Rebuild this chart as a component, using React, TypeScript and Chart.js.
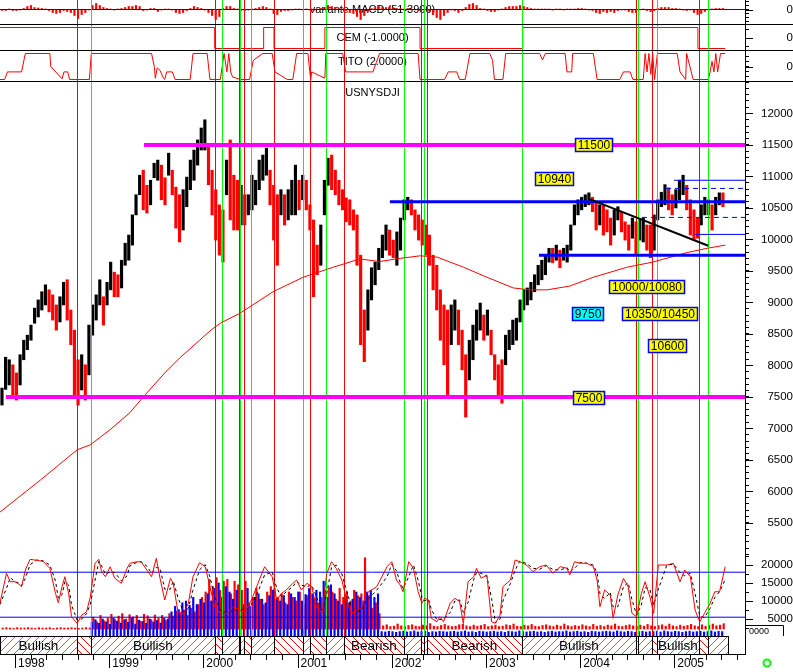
import React, { useEffect, useRef } from 'react';
import { Chart, registerables } from 'chart.js';

Chart.register(...registerables);

// ---------------- time frame (decimal years) ----------------
const X_START = 1997.841;
const X_END = 2005.75;
const DATA_END = 2005.57;
const BAR_START = 1997.862;
const BAR_STEP = 1 / 26; // bi-weekly bars

// ---------------- Dow Jones (USNYSDJI) bi-weekly high / low ----------------
const priceHigh = [
  7640, 8130, 8090, 8010, 7880, 8170, 8400, 8480, 8640, 8910,
  9040, 9170, 9280, 9200, 9120, 8960, 9090, 9320, 9360, 8880,
  8560, 8090, 8170, 8010, 8640, 8960, 9120, 9360, 9090, 9320,
  9640, 9480, 9440, 9670, 9940, 10070, 10390, 10710, 11020, 11100,
  10860, 10940, 11210, 11260, 11180, 10980, 11370, 11100, 10830, 10710,
  10790, 10990, 11260, 11420, 11580, 11770, 11900, 11500, 11100, 10790,
  10550, 10470, 11260, 11580, 11020, 10940, 10860, 10710, 10710, 11020,
  10940, 11260, 11340, 11450, 11100, 10860, 10710, 10790, 10710, 10790,
  10940, 11180, 10940, 11020, 10940, 10550, 10310, 9910, 10230, 10940,
  11290, 11340, 11100, 10940, 10790, 10660, 10630, 10470, 10390, 9750,
  8880, 9200, 9550, 9640, 9860, 10070, 10230, 10150, 9990, 10120,
  10340, 10630, 10670, 10630, 10470, 10390, 10310, 10230, 10070, 9750,
  9590, 9200, 8960, 8880, 8960, 9040, 8880, 8560, 8170, 8400,
  8640, 8880, 8990, 8800, 8880, 8560, 8170, 8010, 8090, 8480,
  8560, 8720, 8750, 9040, 9200, 9230, 9320, 9440, 9590, 9670,
  9750, 9860, 9860, 9910, 9830, 9860, 9910, 10230, 10550, 10630,
  10670, 10710, 10740, 10670, 10580, 10550, 10550, 10470, 10340, 10470,
  10520, 10440, 10280, 10230, 10340, 10280, 10310, 10340, 10230, 10230,
  10390, 10630, 10750, 10870, 10820, 10710, 10790, 10940, 11020, 10860,
  10630, 10470, 10340, 10550, 10670, 10630, 10550, 10670, 10740, 10740,
];
const priceLow = [
  7370, 7620, 7690, 7530, 7450, 7690, 8090, 8250, 8400, 8670,
  8770, 8880, 8960, 8850, 8720, 8560, 8690, 8960, 8720, 8330,
  7530, 7370, 7610, 7450, 7850, 8480, 8720, 8960, 8640, 8960,
  9200, 9090, 9090, 9230, 9590, 9670, 9910, 10390, 10710, 10470,
  10420, 10550, 10980, 10940, 10630, 10550, 11020, 10710, 10180, 9960,
  10150, 10520, 10790, 10940, 11180, 11420, 11420, 10870, 10390, 9990,
  9750, 9640, 10710, 10310, 10150, 10150, 10230, 10230, 10390, 10470,
  10550, 10790, 10940, 11020, 10550, 9990, 9590, 10390, 10230, 10310,
  10390, 10390, 10470, 10630, 10470, 10150, 9090, 9440, 9590, 10390,
  10860, 10790, 10710, 10550, 10470, 10280, 10230, 10150, 9590, 8330,
  8060, 8560, 9040, 9280, 9520, 9710, 9830, 9750, 9710, 9590,
  9830, 10310, 10470, 10390, 10150, 9990, 9910, 9750, 9590, 9200,
  8880, 8400, 8010, 7530, 8330, 8560, 8330, 7930, 7180, 7770,
  8090, 8400, 8560, 8400, 8480, 8170, 7770, 7530, 7400, 8010,
  8250, 8330, 8400, 8690, 8880, 8960, 9040, 9170, 9280, 9360,
  9440, 9640, 9630, 9670, 9550, 9670, 9640, 9830, 10230, 10390,
  10470, 10520, 10550, 10440, 10150, 10230, 10070, 10120, 9910, 10070,
  10310, 10120, 9990, 9830, 10020, 9750, 9990, 9960, 9830, 9710,
  9830, 10310, 10520, 10550, 10470, 10390, 10500, 10630, 10710, 10470,
  10070, 9990, 10020, 10230, 10390, 10390, 10150, 10390, 10550, 10520,
];

// 200-day moving average
const maDates = [1997.84, 1998.27, 1998.66, 1998.8, 1999.01, 1999.22, 1999.38, 1999.59, 1999.75, 1999.96, 2000.08, 2000.18, 2000.39, 2000.74, 2001.06, 2001.38, 2001.66, 2001.87, 2002.09, 2002.3, 2002.48, 2002.76, 2003.01, 2003.29, 2003.47, 2003.65, 2003.89, 2004.14, 2004.5, 2004.77, 2005.13, 2005.35, 2005.54];
const maValues = [5670, 6180, 6660, 6740, 6980, 7250, 7530, 7880, 8120, 8400, 8560, 8670, 8830, 9170, 9400, 9560, 9690, 9650, 9700, 9740, 9720, 9560, 9400, 9230, 9200, 9200, 9260, 9400, 9560, 9640, 9790, 9860, 9910];

// horizontal support / resistance levels
const levelValues = [11500, 7500, 10600, 9750, 10940, 10080, 10810, 10350];
const levelStarts = [1999.37, 1997.904, 2001.98, 2003.563, 2004.996, 2005.219, 2004.911, 2004.656];
const levelKinds = ['target', 'target', 'support', 'support', 'thin', 'thin', 'dashed', 'dashed'];

// falling trend line
const trendDates = [2004.1, 2005.36];
const trendValues = [10640, 9900];

// boxed notes
const noteTexts = ['11500', '10940', '10000/10080', '9750', '10350/10450', '10600', '7500'];
const noteDates = [2004.147, 2003.727, 2004.714, 2004.083, 2004.852, 2004.932, 2004.094];
const noteValues = [11500, 10960, 9246, 8809, 8809, 8301, 7480];

// buy (green) / sell (red) signals
const signalDates = [1998.655, 1998.804, 2000.123, 2000.201, 2000.375, 2000.392, 2000.428, 2000.508, 2000.753, 2001.061, 2001.128, 2001.305, 2001.489, 2002.13, 2002.307, 2002.345, 2002.377, 2003.379, 2004.592, 2004.61, 2004.765, 2004.812, 2005.264, 2005.36];
const signalKinds = ['sell', 'buy', 'sell', 'buy', 'sell', 'buy', 'sell', 'buy', 'sell', 'buy', 'sell', 'buy', 'sell', 'buy', 'sell', 'buy', 'sell', 'buy', 'sell', 'buy', 'sell', 'buy', 'sell', 'buy'];

// variante MACD histogram (one per bar)
const macdHist = [
  -1, -1, 0.5, -1, -1, -0.5, 1, 3, 4, 2,
  1.5, 1, 0.5, -1, -3, -4, -3, -1, -2, -3,
  -6, -9, -5, -3, -0.5, 4, 6, 4, 2, 1,
  0.5, -0.5, 0.5, 1, 2, 3, 3, 4, 3, -1,
  -0.5, 1, 1, -2, -0.5, 0.5, 0.5, -0.5, -3, -4,
  -3, -1, 1, 3, 2, 1, -0.5, -3, -6, -10,
  -7, 1, 3, 3, 1, 0.5, -1, -1, -0.5, 0.5,
  1, 2, 3, 2, 0.5, -4, -5, -2, -1, -1,
  -0.5, 0.5, 0.5, -0.5, 0.5, -0.5, -1, 0.5, 1, 2,
  4, 3, 2, 1, 0.5, -1, -3, -4, -7, -10,
  -6, -2, 1, 2, 3, 2, 2, 3, 2, 1,
  1, 0.5, 1, 0.5, -0.5, -1, -0.5, 0.5, -2, -5,
  -8, -10, -6, -3, -0.5, -1, -3, -1, 2, 5,
  6, 4, 1, 0.5, -1, -2, -2, -0.5, 0.5, 2,
  3, 3, 3, 4, 3, 2, 1, 0.5, 0.5, 0.5,
  0.5, 0.5, -0.5, 0.5, 0.5, -0.5, 0.5, 0.5, 0.5, 1,
  1, 0.5, -0.5, -1, -3, -4, -2, -3, -2, -3,
  -1, -0.5, -0.5, -2, -3, -3, -0.5, 0.5, -1, -2,
  -1, 1, 2, 2, 2, 1, 1, 0.5, -0.5, -1,
  -0.5, -3, -5, -4, -2, -0.5, 0.5, 1, 1, 1,
];

// CEM state (+1 / -1)
const cemDates = [1997.84, 2000.12, 2000.64, 2000.75, 2001.29, 2002.3, 2003.39, 2005.25, 2005.54];
const cemValues = [1, -1, 1, -1, 1, -1, 1, -1, -1];

// TITO
const titoDates = [1997.84, 1997.89, 1997.92, 1998.07, 1998.11, 1998.37, 1998.38, 1998.5, 1998.52, 1998.56, 1998.58, 1998.79, 1998.81, 1999.45, 1999.48, 1999.49, 1999.51, 1999.54, 1999.57, 1999.59, 1999.61, 1999.67, 1999.7, 1999.86, 1999.89, 2000.04, 2000.07, 2000.18, 2000.22, 2000.25, 2000.27, 2000.29, 2000.31, 2000.39, 2000.49, 2000.53, 2000.63, 2000.73, 2000.76, 2000.89, 2000.95, 2000.99, 2001.11, 2001.13, 2001.14, 2001.15, 2001.29, 2001.3, 2001.48, 2001.51, 2001.8, 2001.87, 2002.28, 2002.3, 2002.56, 2002.6, 2002.69, 2002.72, 2002.78, 2002.83, 2003.04, 2003.07, 2003.09, 2003.18, 2003.21, 2003.57, 2003.6, 2003.63, 2003.84, 2003.86, 2003.91, 2003.92, 2004.14, 2004.18, 2004.42, 2004.46, 2004.53, 2004.56, 2004.67, 2004.69, 2004.71, 2004.73, 2004.75, 2004.77, 2004.79, 2004.82, 2005.03, 2005.06, 2005.12, 2005.13, 2005.2, 2005.36, 2005.38, 2005.4, 2005.42, 2005.44, 2005.46, 2005.49, 2005.54];
const titoValues = [-2, -2, -0.83, -0.83, 2, 2, 0, -1.9, -0.83, -0.83, -2, -2, 2, 2, -0.1, -1.8, -0.2, -0.6, -1.6, -2, -0.83, -0.83, -2, -2, 2, 2, -2, -2, 2, -0.83, 2, -0.83, -1.6, -2, -2, 0.96, 2, 2, -0.83, -2, -2, 2, 2, -0.83, -2, -0.83, -1.8, 2, 2, -0.83, -0.83, 2, 2, -2, -2, -0.83, -0.83, -2, -2, 2, 2, 0.96, -2, -2, 2, 2, 1, 2, 2, -0.83, -0.83, 2, 2, -2, -2, -0.83, -0.83, -2, -2, 2, -0.83, 2, -1.2, 2, -2, 2, 2, -0.83, -2, 2, -2, -2, -0.83, 0.8, -0.83, 2, -0.83, 2, 2];

// lower oscillator (red line) and its signal (black dashed)
const oscDates = [
  1997.84, 1997.91, 1997.95, 1998.0, 1998.04, 1998.07, 1998.11, 1998.16, 1998.23, 1998.3,
  1998.37, 1998.43, 1998.46, 1998.5, 1998.53, 1998.57, 1998.6, 1998.66, 1998.71, 1998.76,
  1998.8, 1998.85, 1998.89, 1998.92, 1998.96, 1999.01, 1999.06, 1999.13, 1999.19, 1999.22,
  1999.29, 1999.34, 1999.4, 1999.45, 1999.5, 1999.54, 1999.59, 1999.65, 1999.68, 1999.73,
  1999.79, 1999.84, 1999.89, 1999.96, 2000.02, 2000.07, 2000.12, 2000.18, 2000.25, 2000.32,
  2000.41, 2000.46, 2000.51, 2000.58, 2000.65, 2000.73, 2000.78, 2000.83, 2000.88, 2000.95,
  2000.99, 2001.04, 2001.1, 2001.15, 2001.2, 2001.26, 2001.31, 2001.36, 2001.41, 2001.47,
  2001.52, 2001.57, 2001.63, 2001.68, 2001.73, 2001.84, 2001.95, 2002.0, 2002.05, 2002.09,
  2002.12, 2002.18, 2002.23, 2002.28, 2002.32, 2002.35, 2002.39, 2002.42, 2002.48, 2002.51,
  2002.55, 2002.62, 2002.67, 2002.72, 2002.76, 2002.81, 2002.87, 2002.9, 2002.95, 2003.01,
  2003.06, 2003.1, 2003.15, 2003.18, 2003.26, 2003.31, 2003.36, 2003.43, 2003.5, 2003.57,
  2003.64, 2003.71, 2003.79, 2003.86, 2003.89, 2003.94, 2004.0, 2004.07, 2004.14, 2004.18,
  2004.21, 2004.26, 2004.32, 2004.35, 2004.4, 2004.46, 2004.51, 2004.55, 2004.6, 2004.65,
  2004.69, 2004.74, 2004.78, 2004.83, 2004.92, 2004.99, 2005.06, 2005.11, 2005.17, 2005.22,
  2005.27, 2005.32, 2005.38, 2005.43, 2005.48, 2005.54,
];
const oscValues = [
  9360, 17700, 15360, 15360, 14700, 13970, 18600, 21580, 21300, 21000,
  19080, 12140, 9530, 14000, 16750, 12140, 5640, 3800, 6110, 7000,
  11200, 20470, 21580, 18100, 16750, 19500, 16300, 14920, 19080, 20470,
  20900, 20900, 18600, 16750, 21860, 16300, 10280, 16300, 14900, 7030,
  6580, 9360, 16750, 20640, 19500, 13970, 8420, 6580, 6580, 8420,
  7030, 7960, 10280, 14920, 19530, 16750, 10280, 12140, 13050, 14920,
  15830, 13050, 14920, 13970, 8420, 6580, 17700, 20920, 19080, 15830,
  10280, 6580, 7500, 7960, 12140, 13970, 19530, 20920, 15830, 14440,
  12580, 20920, 19080, 12580, 9360, 10750, 10280, 5190, 4250, 5640,
  4250, 9360, 10750, 9830, 3800, 15360, 16750, 19080, 16300, 17220,
  4250, 3800, 6110, 13970, 15830, 21390, 20900, 20000, 18140, 19530,
  20000, 17700, 19530, 19080, 17220, 20920, 20500, 20500, 19530, 15830,
  8420, 13060, 11670, 5190, 11670, 16300, 13970, 6580, 5640, 12140,
  15360, 11200, 6580, 20000, 20000, 20470, 15360, 18600, 16750, 7500,
  4250, 6580, 9360, 12580, 12580, 19530,
];
const oscSignal = [
  9000, 13500, 16500, 15360, 15000, 14300, 16300, 20100, 21400, 21150,
  20000, 15600, 10800, 11800, 15400, 14400, 8900, 4700, 5000, 6500,
  9100, 15800, 21000, 19800, 17400, 18100, 17900, 15600, 17000, 19800,
  20700, 20900, 19700, 17700, 19300, 19100, 13300, 13300, 15600, 11000,
  6800, 8000, 13000, 18700, 20100, 16700, 11200, 7500, 6580, 7500,
  7700, 7500, 9100, 12600, 17200, 18100, 13500, 11200, 12600, 14000,
  15400, 14400, 14000, 14400, 11200, 7500, 12100, 19300, 20000, 17500,
  13000, 8400, 7000, 7700, 10000, 13000, 16700, 20200, 18400, 15100,
  13500, 16700, 20000, 15800, 11000, 10000, 10500, 7700, 4700, 4900,
  4900, 6800, 10000, 10300, 6800, 9600, 16000, 17900, 17700, 16800,
  10700, 4000, 5000, 10000, 14900, 18600, 21100, 20400, 19100, 18800,
  19800, 18800, 18600, 19300, 18100, 19100, 20700, 20500, 20000, 17700,
  12100, 10700, 12400, 8400, 8400, 14000, 15100, 10300, 6100, 8900,
  13700, 13300, 8900, 13300, 20000, 20200, 17900, 17000, 17700, 12100,
  5900, 5400, 8000, 11000, 12580, 16000,
];
const oscLevels = [18000, 5500];

// histogram bars of the lower panel (one per bar, null = none)
const oscRed = [
  2500, 2600, 2500, 2400, 2600, 2500, 2500, 2600, 2500, 2400,
  2600, 2500, 2500, 2600, 2400, 2500, 2600, 2500, 2500, 2600,
  2500, 2400, 2500, 2600, 2500, 5500, 4200, 6000, 4500, 5200,
  6300, 4800, 5800, 6500, 5000, 6200, 5600, 6000, 4400, 6300,
  5900, 4800, 6100, 5200, 6000, 4600, 6500, 5800, 7200, 6500,
  7500, 6000, 8000, 7000, 9000, 11000, 12500, 16000, 14000, 16500,
  13000, 15500, 16000, 12000, 15500, 14500, 13000, 15500, 9500, 11000,
  13500, 10500, 9000, 12500, 14000, 13500, 11000, 12000, 9500, 12500,
  11000, 10000, 12500, 9000, 11500, 12000, 10500, 9500, 11000, 13000,
  14000, 12500, 10500, 13500, 11000, 12500, 10000, 13000, 11500, 12000,
  22000, 11500, 8000, 9500, 6500, 3100, 3400, 2900, 3000, 3600,
  3100, 2900, 3200, 3400, 3000, 2900, 3300, 3100, 3700, 3000,
  2900, 3200, 3500, 3100, 2900, 3000, 3400, 3600, 3100, 2900,
  3300, 3000, 3200, 3500, 2900, 3100, 3300, 2900, 3000, 3400,
  3200, 3600, 3000, 2900, 3300, 3100, 3500, 3000, 2900, 3200,
  3400, 3100, 2900, 3300, 3000, 3600, 3100, 2900, 3200, 3000,
  3400, 3100, 2900, 3500, 3000, 3200, 2900, 3300, 3100, 3600,
  3000, 2900, 3200, 3400, 3100, 2900, 3300, 3000, 3500, 3100,
  2900, 3200, 3400, 3000, 3600, 3100, 2900, 3300, 3000, 3200,
  3500, 3100, 2900, 3400, 3000, 3200, 3600, 3100, 3300, 3700,
];
const oscBlue = [
  null, null, null, null, null, null, null, null, null, null,
  null, null, null, null, null, null, null, null, null, null,
  null, null, null, null, null, 4000, 4800, 3800, 5000, 4200,
  3500, 5200, 4400, 3900, 4800, 4100, 5300, 3600, 4700, 4300,
  3800, 5000, 4200, 4600, 3900, 5200, 5000, 7000, 8500, 7600,
  9500, 10000, 8800, 11000, 9000, 10500, 9500, 12000, 10000, 13500,
  15000, 11000, 14000, 12500, 10500, 13000, 12500, 9000, 13500, 8500,
  11000, 12000, 10500, 9500, 11500, 13000, 10500, 10000, 11500, 9000,
  12000, 11000, 12500, 10000, 11800, 13500, 12000, 13000, 12500, 15500,
  11000, 14500, 12000, 10000, 9000, 11000, 9500, 10500, 12500, 11000,
  10000, 12500, 13000, 11000, 12000, 1500, 1400, 1600, 1500, 1300,
  1500, 1600, 1400, 1500, 1700, 1400, 1500, 1600, 1300, 1500,
  1400, 1600, 1500, 1400, 1500, 1600, 1400, 1500, 1700, 1400,
  1500, 1300, 1600, 1500, 1400, 1500, 1600, 1400, 1500, 1300,
  1600, 1500, 1400, 1700, 1500, 1400, 1500, 1600, 1400, 1500,
  1300, 1500, 1600, 1400, 1500, 1500, 1700, 1400, 1500, 1600,
  1400, 1500, 1300, 1600, 1500, 1400, 1500, 1600, 1500, 1400,
  1700, 1500, 1400, 1600, 1500, 1300, 1500, 1600, 1400, 1500,
  1500, 1600, 1400, 1700, 1500, 1400, 1600, 1500, 1300, 1500,
  1600, 1400, 1500, 1600, 1400, 1500, 1700, 1400, 1600, 1500,
];

// ---------------- styles / layout ----------------
const W = 793;
const AXIS_W = 48;
const FONT = "'Liberation Sans', Arial, Helvetica, sans-serif";
const RED = '#ff0000';
const GREEN = '#00ff00';
const BLUE = '#0000ff';
const MAGENTA = '#ff00ff';
const LEVEL_STYLE: any = {
  target: { color: MAGENTA, width: 4, dash: [] },
  support: { color: BLUE, width: 3, dash: [] },
  thin: { color: BLUE, width: 1, dash: [] },
  dashed: { color: BLUE, width: 1, dash: [5, 4] },
};
const NOTE_FILL: any = { '9750': '#00ffff' };

const PRICE_MIN = 4990, PRICE_MAX = 12500;
const OSC_MIN = 280, OSC_MAX = 22780;
const RED_BASE = 2200;

const barDates = priceHigh.map((_, i) => BAR_START + i * BAR_STEP);

function range(a: number, b: number, step: number) {
  const out: number[] = [];
  for (let v = a; v <= b + 1e-9; v += step) out.push(Math.round(v * 1000) / 1000);
  return out;
}
const isYear = (v: number) => Math.abs(v - Math.round(v)) < 1e-6;
const xTickValues: number[] = [];
for (let yr = 1998; yr <= 2005; yr++) {
  for (let m = 0; m < 12; m += 2) {
    const v = yr + m / 12;
    if (v <= X_END) xTickValues.push(v);
  }
}

function xScale(extra: any = {}) {
  return {
    type: 'linear', min: X_START, max: X_END, offset: false, bounds: 'data',
    display: false, grid: { display: false, offset: false }, ...extra,
  };
}

function yScale(min: number, max: number, tickValues: number[], label: (v: number) => string, padding: number, extra: any = {}) {
  return {
    type: 'linear', position: 'right', min, max, offset: false, bounds: 'data',
    afterBuildTicks: (s: any) => { s.ticks = tickValues.map((value) => ({ value })); },
    afterFit: (s: any) => { s.width = AXIS_W; s.paddingTop = 0; s.paddingBottom = 0; },
    ticks: {
      autoSkip: false, callback: (v: any) => label(Number(v)), crossAlign: 'far', padding,
      color: '#000', font: { family: FONT, size: 11.5 },
    },
    grid: { display: true, drawOnChartArea: false, drawTicks: true, tickLength: 4, tickWidth: 1, tickColor: '#000', offset: false },
    border: { display: true, color: '#000', width: 1 },
    ...extra,
  };
}

function baseOptions(scales: any) {
  return {
    responsive: false, maintainAspectRatio: false, animation: false, devicePixelRatio: 1, events: [],
    layout: { padding: 0 },
    plugins: { legend: { display: false }, tooltip: { enabled: false }, title: { display: false } },
    scales,
  };
}

// ---------------- plugins ----------------
function drawSignals(chart: any) {
  const { ctx, chartArea: a, scales: { x } } = chart;
  ctx.save();
  ctx.lineWidth = 1;
  signalDates.forEach((d, i) => {
    const px = Math.round(x.getPixelForValue(d)) + 0.5;
    ctx.strokeStyle = signalKinds[i] === 'sell' ? RED : GREEN;
    ctx.beginPath();
    ctx.moveTo(px, a.top);
    ctx.lineTo(px, a.bottom);
    ctx.stroke();
  });
  ctx.restore();
}
function signalLines(afterIndex?: number) {
  return {
    id: 'signalLines',
    afterDatasetDraw(chart: any, args: any) { if (afterIndex !== undefined && args.index === afterIndex) drawSignals(chart); },
    afterDatasetsDraw(chart: any) { if (afterIndex === undefined) drawSignals(chart); },
  };
}

function panelTitle(text: string, offsetY: number) {
  return {
    id: 'panelTitle',
    beforeDatasetsDraw(chart: any) {
      const { ctx, chartArea: a } = chart;
      ctx.save();
      ctx.font = `11px ${FONT}`;
      ctx.fillStyle = '#000';
      ctx.textAlign = 'center';
      ctx.textBaseline = 'middle';
      ctx.fillText(text, (a.left + a.right) / 2, a.top + offsetY);
      ctx.restore();
    },
  };
}

const majorTicks = {
  id: 'majorTicks',
  afterDraw(chart: any) {
    const s = chart.scales.y;
    if (!s) return;
    const ctx = chart.ctx;
    ctx.save();
    ctx.strokeStyle = '#000';
    ctx.lineWidth = 1;
    s.ticks.forEach((t: any) => {
      if (t.label) {
        const py = Math.round(s.getPixelForValue(t.value)) + 0.5;
        ctx.beginPath();
        ctx.moveTo(s.left, py);
        ctx.lineTo(s.left + 8, py);
        ctx.stroke();
      }
    });
    ctx.restore();
  },
};

const bottomRule = {
  id: 'bottomRule',
  afterDraw(chart: any) {
    const ctx = chart.ctx;
    const py = chart.height - 0.5;
    ctx.save();
    ctx.strokeStyle = '#000';
    ctx.lineWidth = 1;
    ctx.beginPath();
    ctx.moveTo(0, py);
    ctx.lineTo(chart.width, py);
    ctx.stroke();
    ctx.restore();
  },
};

const notesPlugin = {
  id: 'notes',
  afterDatasetsDraw(chart: any) {
    const { ctx, scales: { x, y } } = chart;
    ctx.save();
    ctx.font = `12px ${FONT}`;
    ctx.textAlign = 'center';
    ctx.textBaseline = 'middle';
    noteTexts.forEach((text, i) => {
      const cx = x.getPixelForValue(noteDates[i]);
      const cy = y.getPixelForValue(noteValues[i]);
      const w = Math.ceil(ctx.measureText(text).width) + 5;
      const h = 14;
      const left = Math.round(cx - w / 2);
      const top = Math.round(cy - h / 2);
      ctx.fillStyle = NOTE_FILL[text] || '#ffff00';
      ctx.fillRect(left, top, w, h);
      ctx.strokeStyle = BLUE;
      ctx.lineWidth = 1.5;
      ctx.strokeRect(left + 0.5, top + 0.5, w - 1, h - 1);
      ctx.fillStyle = '#000';
      ctx.fillText(text, left + w / 2, top + h / 2 + 0.5);
    });
    ctx.restore();
  },
};

const oscCorner = {
  id: 'oscCorner',
  afterDraw(chart: any) {
    const { ctx } = chart;
    const s = chart.scales.y;
    const top = Math.round(s.getPixelForValue(3300)) + 0.5;
    ctx.save();
    ctx.strokeStyle = '#000';
    ctx.lineWidth = 1;
    ctx.beginPath();
    ctx.moveTo(s.left, top);
    ctx.lineTo(s.left + 38.5, top);
    ctx.lineTo(s.left + 38.5, chart.height);
    ctx.stroke();
    ctx.font = `9px ${FONT}`;
    ctx.fillStyle = '#000';
    ctx.textBaseline = 'middle';
    ctx.fillText('0000', s.left + 4, top + 6);
    ctx.restore();
  },
};

function hatch(ctx: any, color: string, dir: number) {
  const c = document.createElement('canvas');
  c.width = 8; c.height = 8;
  const g = c.getContext('2d') as CanvasRenderingContext2D;
  g.fillStyle = color;
  for (let i = 0; i < 8; i++) g.fillRect(i, dir > 0 ? 7 - i : i, 1, 1);
  return ctx.createPattern(c, 'repeat');
}

const bandPlugin = {
  id: 'trendBand',
  afterDraw(chart: any) {
    const { ctx, chartArea: a, scales: { x } } = chart;
    const bull = hatch(ctx, '#00cc00', 1);
    const bear = hatch(ctx, RED, -1);
    const edges = [X_START, ...signalDates, DATA_END];
    const kinds = ['buy', ...signalKinds];
    ctx.save();
    for (let i = 0; i < edges.length - 1; i++) {
      const x1 = x.getPixelForValue(edges[i]);
      const x2 = x.getPixelForValue(edges[i + 1]);
      ctx.fillStyle = kinds[i] === 'buy' ? bull : bear;
      ctx.fillRect(x1, a.top, x2 - x1, a.bottom - a.top);
    }
    ctx.font = `13.5px ${FONT}`;
    ctx.textAlign = 'center';
    ctx.textBaseline = 'middle';
    ctx.fillStyle = '#000';
    for (let i = 0; i < edges.length - 1; i++) {
      const x1 = x.getPixelForValue(edges[i]);
      const x2 = x.getPixelForValue(edges[i + 1]);
      const label = kinds[i] === 'buy' ? 'Bullish' : 'Bearish';
      if (ctx.measureText(label).width < x2 - x1) ctx.fillText(label, (x1 + x2) / 2, (a.top + a.bottom) / 2 + 1);
    }
    ctx.strokeStyle = '#000';
    ctx.lineWidth = 1;
    ctx.beginPath();
    edges.forEach((e) => {
      const px = Math.round(x.getPixelForValue(e)) + 0.5;
      ctx.moveTo(px, a.top);
      ctx.lineTo(px, a.bottom);
    });
    const xe = Math.round(x.getPixelForValue(DATA_END)) + 0.5;
    ctx.moveTo(a.left, a.top + 0.5);
    ctx.lineTo(xe, a.top + 0.5);
    // time-axis tick marks
    xTickValues.forEach((v) => {
      const px = Math.round(x.getPixelForValue(v)) + 0.5;
      ctx.moveTo(px, x.top);
      ctx.lineTo(px, x.top + (isYear(v) ? 14 : 6));
    });
    ctx.stroke();
    // status marker
    ctx.strokeStyle = GREEN;
    ctx.lineWidth = 2;
    ctx.beginPath();
    ctx.arc(chart.width - 26, x.top + 9, 3.5, 0, Math.PI * 2);
    ctx.stroke();
    ctx.restore();
  },
};

// ---------------- chart configs ----------------
function lineSet(data: any[], color: string, width: number, order: number, extra: any = {}) {
  return { type: 'line', data, borderColor: color, borderWidth: width, pointRadius: 0, tension: 0, fill: false, order, ...extra };
}

function makeMacd() {
  return {
    type: 'line',
    data: {
      datasets: [
        lineSet([{ x: X_START, y: 0 }, { x: X_END, y: 0 }], BLUE, 1, 1),
        { type: 'bar', data: macdHist.map((v, i) => ({ x: barDates[i], y: v })), backgroundColor: RED, barThickness: 1.5, borderWidth: 0, order: 2 },
      ],
    },
    options: baseOptions({
      x: xScale(),
      y: yScale(-15.5, 9.5, [-12, -8, -4, 0, 4, 8], (v) => (v === 0 ? '0' : ''), 33),
    }),
    plugins: [panelTitle('variante MACD (51-3900)', 10), signalLines(), majorTicks, bottomRule],
  };
}

function makeCem() {
  return {
    type: 'line',
    data: { datasets: [lineSet(cemDates.map((d, i) => ({ x: d, y: cemValues[i] })), RED, 1, 1, { stepped: 'before' })] },
    options: baseOptions({
      x: xScale(),
      y: yScale(-1.238, 1.238, [-0.8, 0, 0.8], (v) => (v === 0 ? '0' : ''), 33),
    }),
    plugins: [panelTitle('CEM (-1.0000)', 13), signalLines(), majorTicks, bottomRule],
  };
}

function makeTito() {
  return {
    type: 'line',
    data: { datasets: [lineSet(titoDates.map((d, i) => ({ x: d, y: titoValues[i] })), RED, 1, 1)] },
    options: baseOptions({
      x: xScale(),
      y: yScale(-2.385, 2.385, [-1.5, -0.75, 0, 0.75, 1.5], (v) => (v === 0 ? '0' : ''), 33),
    }),
    plugins: [panelTitle('TITO (2.0000)', 11), signalLines(), majorTicks, bottomRule],
  };
}

function makePrice() {
  const mids = priceHigh.map((h, i) => (h + priceLow[i]) / 2);
  const barColors = mids.map((m, i) => (i === 0 || m >= mids[i - 1] ? '#000000' : RED));
  const levelSets = levelValues.map((v, i) => {
    const st = LEVEL_STYLE[levelKinds[i]];
    return lineSet([{ x: levelStarts[i], y: v }, { x: X_END, y: v }], st.color, st.width, 3, { borderDash: st.dash });
  });
  return {
    type: 'line',
    data: {
      datasets: [
        { type: 'bar', data: barDates.map((d, i) => ({ x: d, y: [priceLow[i], priceHigh[i]] })), backgroundColor: barColors, barThickness: 2.5, borderWidth: 0, order: 10 },
        lineSet(maDates.map((d, i) => ({ x: d, y: maValues[i] })), RED, 1, 5),
        ...levelSets,
        lineSet(trendDates.map((d, i) => ({ x: d, y: trendValues[i] })), '#000000', 2, 2),
      ],
    },
    options: baseOptions({
      x: xScale(),
      y: yScale(PRICE_MIN, PRICE_MAX, range(5000, 12500, 100), (v) => (v % 500 === 0 && v >= 5500 && v <= 12000 ? String(v) : ''), 7),
    }),
    plugins: [panelTitle('USNYSDJI', 11), signalLines(0), notesPlugin, majorTicks],
  };
}

function makeOsc() {
  const red = oscRed.map((v, i) => ({ x: barDates[i], y: v }));
  const blue = oscBlue.map((v, i) => ({ x: barDates[i], y: v }));
  return {
    type: 'line',
    data: {
      datasets: [
        { type: 'bar', data: red, backgroundColor: RED, barThickness: 1.5, borderWidth: 0, base: RED_BASE, order: 10 },
        { type: 'bar', data: blue, backgroundColor: BLUE, barThickness: 1.5, borderWidth: 0, base: OSC_MIN, order: 9 },
        ...oscLevels.map((v) => lineSet([{ x: X_START, y: v }, { x: X_END, y: v }], BLUE, 1, 4)),
        lineSet(oscDates.map((d, i) => ({ x: d, y: oscSignal[i] })), '#000000', 1, 3, { borderDash: [3, 3] }),
        lineSet(oscDates.map((d, i) => ({ x: d, y: oscValues[i] })), RED, 1, 2),
      ],
    },
    options: baseOptions({
      x: xScale(),
      y: yScale(OSC_MIN, OSC_MAX, range(2500, 22500, 2500), (v) => (v % 5000 === 0 ? String(v) : ''), 7),
    }),
    plugins: [signalLines(1), majorTicks, oscCorner],
  };
}

function makeBand() {
  return {
    type: 'line',
    data: { datasets: [] },
    options: baseOptions({
      x: {
        type: 'linear', min: X_START, max: X_END, offset: false, bounds: 'data', position: 'bottom', display: true,
        afterBuildTicks: (s: any) => { s.ticks = xTickValues.map((value) => ({ value })); },
        afterFit: (s: any) => { s.height = 18; s.paddingLeft = 0; s.paddingRight = 0; },
        ticks: {
          autoSkip: false, maxRotation: 0, minRotation: 0, align: 'start', labelOffset: 3, padding: 2,
          color: '#000', font: { family: FONT, size: 12 },
          callback: (v: any) => (isYear(Number(v)) ? String(Math.round(Number(v))) : ''),
        },
        grid: { display: true, drawOnChartArea: false, drawTicks: false, offset: false },
        border: { display: true, color: '#000', width: 1 },
      },
      y: {
        type: 'linear', position: 'right', min: 0, max: 1, display: true, bounds: 'data',
        afterFit: (s: any) => { s.width = AXIS_W; s.paddingTop = 0; s.paddingBottom = 0; },
        ticks: { display: false },
        grid: { display: false },
        border: { display: true, color: '#000', width: 1 },
      },
    }),
    plugins: [bandPlugin],
  };
}

// ---------------- React ----------------
function ChartPanel({ top, height, make }: any) {
  const ref = useRef<HTMLCanvasElement | null>(null);
  useEffect(() => {
    const chart = new Chart(ref.current as HTMLCanvasElement, make() as any);
    return () => chart.destroy();
  }, []);
  return (
    <canvas
      ref={ref}
      width={W}
      height={height}
      style={{ position: 'absolute', left: 0, top, width: W, height, display: 'block' }}
    />
  );
}

export default function App() {
  return (
    <div style={{ position: 'fixed', left: 0, top: 0, width: W, height: 672, background: '#ffffff', overflow: 'hidden' }}>
      <ChartPanel top={0} height={25} make={makeMacd} />
      <ChartPanel top={25} height={26} make={makeCem} />
      <ChartPanel top={51} height={31} make={makeTito} />
      <ChartPanel top={82} height={473} make={makePrice} />
      <ChartPanel top={555} height={81} make={makeOsc} />
      <ChartPanel top={636} height={36} make={makeBand} />
    </div>
  );
}
